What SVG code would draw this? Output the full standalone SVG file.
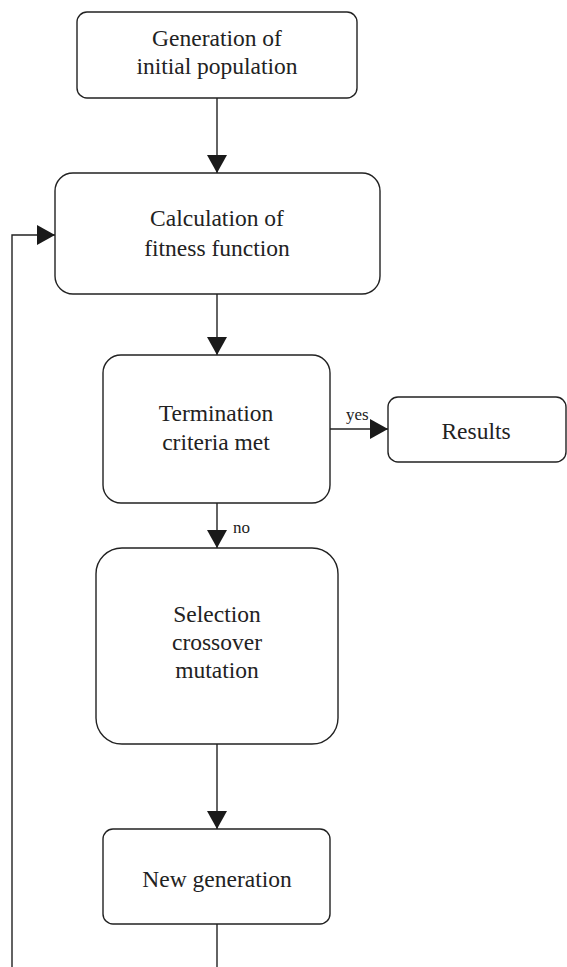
<svg xmlns="http://www.w3.org/2000/svg" width="567" height="967" viewBox="0 0 567 967">
<defs>
<marker id="ah" viewBox="0 0 18 20" refX="18" refY="10" markerWidth="18" markerHeight="20" markerUnits="userSpaceOnUse" orient="auto">
<path d="M0,0 L18,10 L0,20 Z" fill="#1a1a1a"/>
</marker>
<style>
.box{fill:#fff;stroke:#222;stroke-width:1.4}
.t{font-family:"Liberation Serif","Times New Roman",serif;font-size:23.5px;fill:#222;text-anchor:middle}
.s{font-family:"Liberation Serif","Times New Roman",serif;font-size:17px;fill:#222}
.c{fill:none;stroke:#222;stroke-width:1.4}
</style>
</defs>
<rect width="567" height="967" fill="#fff"/>
<g id="connectors">
<line class="c" x1="217" y1="98" x2="217" y2="173" marker-end="url(#ah)"/>
<line class="c" x1="217" y1="294" x2="217" y2="355" marker-end="url(#ah)"/>
<line class="c" x1="330" y1="429" x2="388" y2="429" marker-end="url(#ah)"/>
<line class="c" x1="217" y1="503" x2="217" y2="548" marker-end="url(#ah)"/>
<line class="c" x1="217" y1="744" x2="217" y2="829" marker-end="url(#ah)"/>
<line class="c" x1="217" y1="924" x2="217" y2="967"/>
<polyline class="c" points="12,967 12,235 55,235" marker-end="url(#ah)"/>
<text class="s" x="346" y="420">yes</text>
<text class="s" x="233" y="533">no</text>
</g>
<g id="n1">
<rect class="box" x="77" y="12" width="280" height="86" rx="10"/>
<text class="t" x="217" y="46">Generation of</text>
<text class="t" x="217" y="74">initial population</text>
</g>
<g id="n2">
<rect class="box" x="55" y="173" width="325" height="121" rx="18"/>
<text class="t" x="217" y="226">Calculation of</text>
<text class="t" x="217" y="256">fitness function</text>
</g>
<g id="n3">
<rect class="box" x="103" y="355" width="227" height="148" rx="18"/>
<text class="t" x="216" y="421">Termination</text>
<text class="t" x="216" y="450">criteria met</text>
</g>
<g id="n4">
<rect class="box" x="388" y="397" width="178" height="65" rx="10"/>
<text class="t" x="476" y="439">Results</text>
</g>
<g id="n5">
<rect class="box" x="96" y="548" width="242" height="196" rx="26"/>
<text class="t" x="217" y="622">Selection</text>
<text class="t" x="217" y="650">crossover</text>
<text class="t" x="217" y="678">mutation</text>
</g>
<g id="n6">
<rect class="box" x="103" y="829" width="227" height="95" rx="10"/>
<text class="t" x="217" y="887">New generation</text>
</g>
</svg>
